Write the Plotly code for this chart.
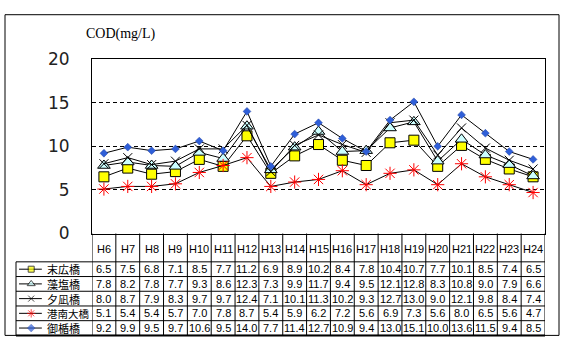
import plotly.graph_objects as go

W, H = 567, 352

categories = ["H6", "H7", "H8", "H9", "H10", "H11", "H12", "H13", "H14", "H15",
              "H16", "H17", "H18", "H19", "H20", "H21", "H22", "H23", "H24"]

suehiro = [6.5, 7.5, 6.8, 7.1, 8.5, 7.7, 11.2, 6.9, 8.9, 10.2, 8.4, 7.8, 10.4, 10.7, 7.7, 10.1, 8.5, 7.4, 6.5]
moshio = [7.8, 8.2, 7.8, 7.7, 9.3, 8.6, 12.3, 7.3, 9.9, 11.7, 9.4, 9.5, 12.1, 12.8, 8.3, 10.8, 9.0, 7.9, 6.6]
yunagi = [8.0, 8.7, 7.9, 8.3, 9.7, 9.7, 12.4, 7.1, 10.1, 11.3, 10.2, 9.3, 12.7, 13.0, 9.0, 12.1, 9.8, 8.4, 7.4]
konan = [5.1, 5.4, 5.4, 5.7, 7.0, 7.8, 8.7, 5.4, 5.9, 6.2, 7.2, 5.6, 6.9, 7.3, 5.6, 8.0, 6.5, 5.6, 4.7]
mitate = [9.2, 9.9, 9.5, 9.7, 10.6, 9.5, 14.0, 7.7, 11.4, 12.7, 10.9, 9.4, 13.0, 15.1, 10.0, 13.6, 11.5, 9.4, 8.5]

series_names = ["末広橋", "藻塩橋", "夕凪橋", "港南大橋", "御楯橋"]
series_values = [suehiro, moshio, yunagi, konan, mitate]
y_ticks = [0, 5, 10, 15, 20]
y_title = "COD(mg/L)"

styles = [
    dict(symbol="square", color="#ffff00", line=dict(color="black", width=1), size=10, lsize=6),
    dict(symbol="triangle-up", color="#ccffff", line=dict(color="black", width=1), size=11, lsize=7),
    dict(symbol="x-thin", color="black", line=dict(color="black", width=1), size=9, lsize=6),
    dict(symbol="asterisk", color="red", line=dict(color="red", width=1), size=11, lsize=7),
    dict(symbol="diamond", color="#2f5fd8", line=dict(color="#1f3fa0", width=0.5), size=6, lsize=6),
]


def fx(px):
    return px / W


def fy(py):
    return 1 - py / H


PLOT_L, PLOT_R, PLOT_T, PLOT_B = 92, 545, 52, 237
TAB_L, HEAD_B, TAB_B = 16, 267, 345

fig = go.Figure()

for name, vals, st in zip(series_names, series_values, styles):
    fig.add_trace(go.Scatter(
        x=categories, y=vals, mode="lines+markers", name=name,
        line=dict(color="black", width=1),
        marker=dict(symbol=st["symbol"], color=st["color"], size=st["size"], line=st["line"]),
        showlegend=False, xaxis="x", yaxis="y", cliponaxis=False,
    ))

# legend swatches inside table
for i, (name, st) in enumerate(zip(series_names, styles)):
    fig.add_trace(go.Scatter(
        x=[0.04, 0.2, 0.34], y=[i, i, i], mode="lines+markers",
        line=dict(color="black", width=1),
        marker=dict(symbol=st["symbol"], color=st["color"], size=[0, st["lsize"], 0],
                    line=st["line"]),
        showlegend=False, xaxis="x2", yaxis="y2", hoverinfo="skip",
    ))

annotations = []
# title
annotations.append(dict(text=y_title, xref="paper", yref="paper", x=fx(84), y=fy(25),
                        xanchor="left", yanchor="middle", showarrow=False,
                        font=dict(family="Liberation Serif", size=14, color="black")))
# header row
for c in categories:
    annotations.append(dict(text=c, xref="x", yref="paper", x=c, y=fy(253),
                            xanchor="center", yanchor="middle", showarrow=False,
                            font=dict(family="Liberation Sans", size=11, color="black")))
# names
for i, name in enumerate(series_names):
    annotations.append(dict(text=name, xref="x2", yref="y2", x=0.39, y=i,
                            xanchor="left", yanchor="middle", showarrow=False, borderpad=0,
                            font=dict(family="Noto Sans CJK JP",
                                      size=11 if len(name) <= 3 else 10.5, color="black")))
# values
for i, vals in enumerate(series_values):
    for c, v in zip(categories, vals):
        annotations.append(dict(text=f"{v:.1f}", xref="x", yref="y2", x=c, y=i,
                                xanchor="center", yanchor="middle", showarrow=False,
                                borderpad=0,
                                font=dict(family="Liberation Sans", size=11, color="black")))

shapes = []
# outer border
shapes.append(dict(type="rect", xref="paper", yref="paper", x0=fx(5), x1=fx(559),
                   y0=fy(345), y1=fy(5), line=dict(color="black", width=1)))
# column lines
for k in range(len(categories) + 1):
    shapes.append(dict(type="line", xref="x", yref="paper", x0=k - 0.5, x1=k - 0.5,
                       y0=fy(PLOT_B), y1=fy(TAB_B), line=dict(color="black", width=1)))
# left of legend column
shapes.append(dict(type="line", xref="paper", yref="paper", x0=fx(TAB_L), x1=fx(TAB_L),
                   y0=fy(HEAD_B), y1=fy(TAB_B), line=dict(color="black", width=1)))
# row lines
n = len(series_names)
for r in range(n + 1):
    py = HEAD_B + r * (TAB_B - HEAD_B) / n
    shapes.append(dict(type="line", xref="paper", yref="paper", x0=fx(TAB_L), x1=fx(PLOT_R),
                       y0=fy(py), y1=fy(py),
                       line=dict(color="black", width=2 if r == n else 1)))

fig.update_layout(
    width=W, height=H, margin=dict(l=0, r=0, t=0, b=0),
    paper_bgcolor="white", plot_bgcolor="white",
    xaxis=dict(domain=[fx(PLOT_L), fx(PLOT_R)], type="category", range=[-0.5, len(categories) - 0.5],
               showgrid=False, showticklabels=False, ticks="", showline=True, mirror=True,
               linecolor="black", linewidth=1, zeroline=False, fixedrange=True),
    yaxis=dict(domain=[fy(PLOT_B), fy(PLOT_T)], range=[0, 20], tickvals=y_ticks,
               showgrid=True, gridcolor="black", gridwidth=1, griddash="4px,3px",
               showline=True, mirror=True, linecolor="black", linewidth=1, zeroline=False,
               ticks="", ticklabelstandoff=18,
               tickfont=dict(family="DejaVu Sans", size=17, color="#222222")),
    xaxis2=dict(domain=[fx(TAB_L), fx(PLOT_L)], range=[0, 1], visible=False, anchor="y2"),
    yaxis2=dict(domain=[fy(TAB_B), fy(HEAD_B)], range=[n - 0.5, -0.5], visible=False, anchor="x2"),
    annotations=annotations, shapes=shapes,
)

fig.write_html("out.html")
